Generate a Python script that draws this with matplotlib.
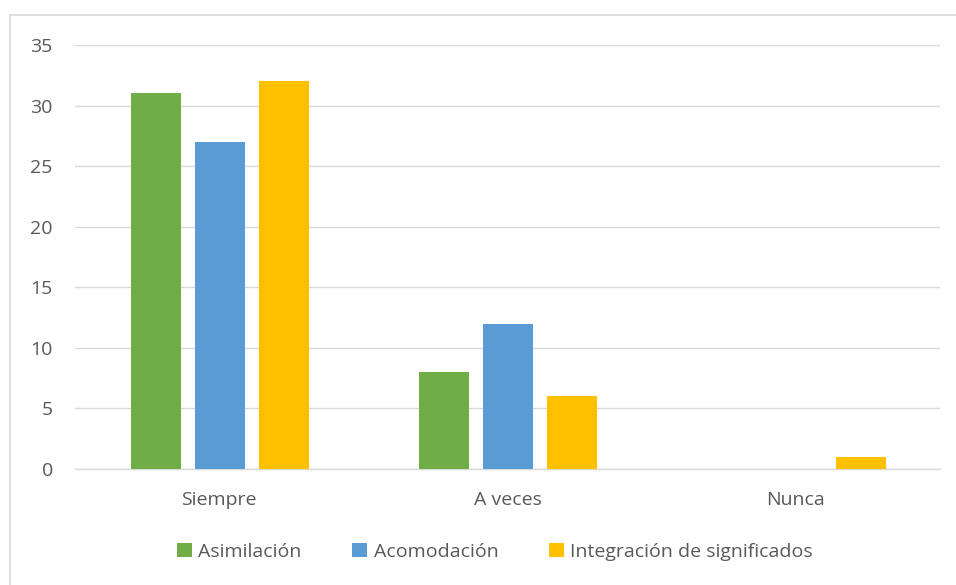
import matplotlib
matplotlib.use("Agg")
import matplotlib.pyplot as plt
import numpy as np
from matplotlib.patches import Rectangle

categories = ["Siempre", "A veces", "Nunca"]
series_names = ["Asimilación", "Acomodación", "Integración de significados"]
asimilacion = [31, 8, 0]
acomodacion = [27, 12, 0]
integracion = [32, 6, 1]
colors = ["#70AD47", "#5B9BD5", "#FFC000"]

plt.rcParams['font.family'] = ['Open Sans', 'DejaVu Sans']
text_color = "#595959"

W, H = 956, 585
fig = plt.figure(figsize=(W/100, H/100), dpi=100)
ax = fig.add_axes([75/W, (H-469)/H, (940-75)/W, (469-45)/H])

x = np.arange(len(categories))
width = 0.173
offset = 0.222
for i, (vals, name, c) in enumerate(zip([asimilacion, acomodacion, integracion], series_names, colors)):
    ax.bar(x + (i-1)*offset + 0.003, vals, width, color=c, label=name, zorder=3)

ax.set_xlim(-0.5, 2.5)
ax.set_ylim(0, 35)
ax.set_yticks(np.arange(0, 36, 5))
ax.set_xticks(x)
ax.set_xticklabels(categories)
ax.grid(axis='y', color="#D9D9D9", linewidth=1, zorder=0)
for s in ["top", "right", "left"]:
    ax.spines[s].set_visible(False)
ax.spines["bottom"].set_color("#D9D9D9")
ax.spines["bottom"].set_linewidth(1)
ax.tick_params(axis='both', length=0, colors=text_color, labelsize=14)
ax.tick_params(axis='y', pad=16)
ax.tick_params(axis='x', pad=16)

fig.legend(loc='center', bbox_to_anchor=(495/W, 1-552/H), ncol=3, frameon=False,
           fontsize=14, labelcolor=text_color, handlelength=0.75, handleheight=0.75,
           handletextpad=0.35, columnspacing=2.6)

fig.patches.append(Rectangle((10/W, -0.1), 1.1, (H-15)/H + 0.1, transform=fig.transFigure,
                             fill=False, edgecolor="#D9D9D9", linewidth=1.2))

fig.savefig("out.png", dpi=100)
